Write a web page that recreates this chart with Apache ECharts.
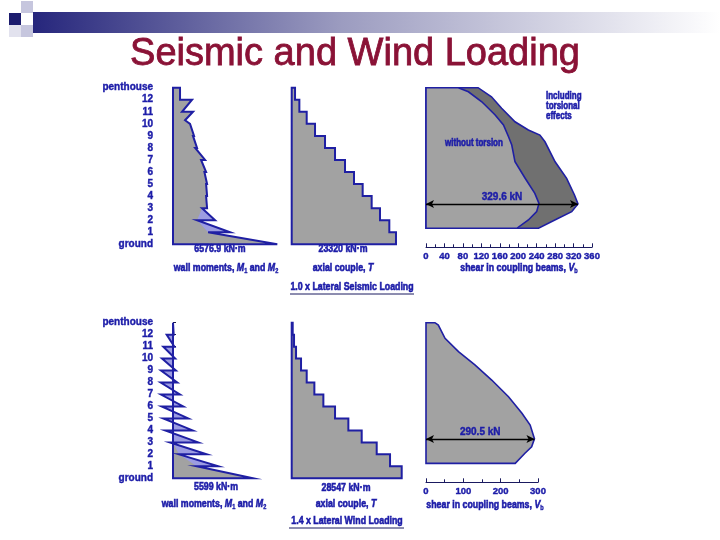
<!DOCTYPE html>
<html><head><meta charset="utf-8">
<script src="https://cdn.jsdelivr.net/npm/echarts@6/dist/echarts.min.js"></script>
<style>html,body{margin:0;padding:0;background:#fff}#c{width:720px;height:540px}</style>
</head><body><div id="c"></div>
<script>
// ---------- DATA ----------
const levelLabels = ['ground','1','2','3','4','5','6','7','8','9','10','11','12','penthouse'];

// wall moments, seismic [kN·m, level]
const seisMomentOutline = [[0,13],[443,13],[443,12],[1202,12],[569,11],[1265,11],[759,10.3],[1075,10],
  [1328,9],[1260,9],[1518,8],[1400,8],[2024,7],[1771,7],[2087,6],[1980,6],[2150,5],[2087,5],
  [2150,4],[2087,4],[2150,3],[1834,3],[2656,2],[1518,2],[3605,1],[2213,1],[6577,0],[0,0]];
const seisMomentInner = [[0,13],[443,13],[443,12],[1202,12],[569,11],[1265,11],[759,10.3],[1075,10],
  [1328,9],[1260,9],[1518,8],[1400,8],[2024,7],[1771,7],[2087,6],[1980,6],[2150,5],[2087,5],
  [2150,4],[2087,4],[2150,3],[1834,3],[1518,2],[2213,1],[6577,0],[0,0]];
// wall moments, wind: value just above floor (tip) and just below floor (notch), floors 12..1
const windFloors = [12,11,10,9,8,7,6,5,4,3,2,1];
const windMomentTip = [50,100,150,200,300,490,721,1071,1379,1771,2359,3171];
const windMomentNotch = [-441,-679,-770,-840,-861,-840,-791,-679,-539,-210,420,1659];
const windMomentBase = 5599;
const windMomentInner = [[0,3],[420,2],[1659,1],[5599,0],[0,0]];

// axial couple T per storey, top storey (penthouse-12) down to storey 1
const seisAxialCouple = [745,1714,3353,5215,7450,9686,11921,13932,15869,17881,19743,21829,23320];
const windAxialCouple = [260,606,1125,2422,3893,5882,8218,11246,14706,18166,22059,25519,28547];

// shear in coupling beams [kN, level]
const seisShearTorsion = [[113,13],[142,12.25],[164,11.29],[193,10.17],[222,9.49],[247,9.07],[258,8.51],
  [280,6.85],[305,5.48],[322,4.09],[329.6,3.35],[316,2.71],[287,2.16],[244,1.33]];
const seisShearNoTorsion = [[70,13],[92,12.66],[121,11.83],[150,10.73],[168,9.9],[179,8.93],[186,8.24],
  [193,6.85],[215,5.48],[236,4.23],[245,3.4],[240,2.71],[222,2.02],[197,1.33]];
const windShear = [[24,13],[33,12.8],[51,11.7],[87,10.58],[131,9.47],[176,8.21],[221,6.82],[257,5.43],
  [279,4.45],[290.5,3.3],[283,2.64],[265,2.09],[239,1.25]];
const seisShearMax = {value:329.6, level:3.35, text:'329.6 kN'};
const windShearMax = {value:290.5, level:3.28, text:'290.5 kN'};

// ---------- STYLE ----------
const BLUE = '#1c1ca8';
const OUT = '#1f1fa3';
const GREY = '#a2a2a2';
const DARK = '#707070';
const LAV = '#9c9ce2';
const FONT = "'Liberation Sans',Arial,sans-serif";
const SX = 0.8;

// ---------- helpers ----------
function windOutline(){
  const pts=[[0,13]];
  windFloors.forEach((f,i)=>{ pts.push([windMomentTip[i],f],[windMomentNotch[i],f]); });
  pts.push([windMomentBase,0],[0,0]);
  return pts;
}
function stairs(vals){
  const pts=[[0,13]];
  vals.forEach((v,i)=>{ const t=13-i; pts.push([v,t],[v,t-1]); });
  pts.push([0,0]);
  return pts;
}
function shearPoly(arr){
  const bottom = arr[arr.length-1][1];
  return [[0,13]].concat(arr).concat([[0,bottom]]);
}
function poly(gi, pts, fill, stroke, lw, z){
  return {
    type:'custom', xAxisIndex:gi, yAxisIndex:gi, z:z, clip:false, silent:true,
    data: pts, encode:{x:0,y:1},
    renderItem:(params, api)=>{
      if(params.dataIndex!==0) return null;
      return {type:'polygon', shape:{points: pts.map(p=>api.coord(p))},
        style:{fill: fill||'none', stroke: stroke||'none', lineWidth: lw||0, lineJoin:'miter'}};
    }
  };
}
function arrow(gi, m){
  return {
    type:'line', xAxisIndex:gi, yAxisIndex:gi, z:20, silent:true, symbol:'none',
    data:[[0,m.level],[m.value,m.level]], lineStyle:{opacity:0},
    markLine:{silent:true, symbol:['arrow','arrow'], symbolSize:[6,8], animation:false,
      lineStyle:{color:'#000', width:1.3, type:'solid'},
      label:{show:true, position:'middle', formatter:m.text, color:BLUE, fontFamily:FONT,
        fontWeight:'bold', fontSize:10, distance:2, textBorderColor:BLUE, textBorderWidth:0.4},
      data:[[{coord:[0,m.level]},{coord:[m.value,m.level]}]]}
  };
}

const rowTop = [87.7, 322.7], rowH = [156.6, 155.6];
const grids = [
  {left:173, top:rowTop[0], width:111, height:rowH[0]},
  {left:291.7, top:rowTop[0], width:111.8, height:rowH[0]},
  {left:426, top:rowTop[0], width:166, height:rowH[0]},
  {left:173, top:rowTop[1], width:100, height:rowH[1]},
  {left:291.7, top:rowTop[1], width:115.6, height:rowH[1]},
  {left:426, top:rowTop[1], width:112, height:rowH[1]}
];
const hiddenX = (max)=>({type:'value', min:0, max:max, show:false});
const tickAxis = (gi,max,interval,off)=>({type:'value', gridIndex:gi, min:0, max:max, interval:interval,
  position:'bottom', offset:off,
  axisLine:{show:true, onZero:false, lineStyle:{color:'#1a1a60', width:1}},
  axisTick:{show:true, inside:true, length:4, lineStyle:{color:'#1a1a60'}},
  minorTick:{show:true, splitNumber:2, length:3, lineStyle:{color:'#1a1a60'}},
  splitLine:{show:false},
  axisLabel:{color:BLUE, fontFamily:FONT, fontWeight:'bold', fontSize:9.5, margin:4,
    textBorderColor:BLUE, textBorderWidth:0.4}});
const xAxes = [
  Object.assign(hiddenX(7000),{gridIndex:0}),
  Object.assign(hiddenX(25000),{gridIndex:1}),
  tickAxis(2,360,40,3),
  Object.assign(hiddenX(7000),{gridIndex:3}),
  Object.assign(hiddenX(30000),{gridIndex:4}),
  tickAxis(5,300,100,4)
];
const levelAxis = (gi)=>({type:'value', gridIndex:gi, min:0, max:13, interval:1, position:'left', offset:16,
  axisLine:{show:true, lineStyle:{color:'#1a1a50', width:1}},
  axisTick:{show:true, inside:true, length:3, lineStyle:{color:'#1a1a50'}},
  splitLine:{show:false},
  axisLabel:{formatter:(v)=>levelLabels[v]||'', color:BLUE, fontFamily:FONT, fontWeight:'bold', fontSize:10, margin:4,
    textBorderColor:BLUE, textBorderWidth:0.4}});
const hiddenY = (gi)=>({type:'value', gridIndex:gi, min:0, max:13, show:false});
const yAxes = [levelAxis(0), hiddenY(1), hiddenY(2), levelAxis(3), hiddenY(4), hiddenY(5)];

const wOut = windOutline();
const series = [
  poly(0, seisMomentOutline, LAV, null, 0, 2),
  poly(0, seisMomentInner, GREY, null, 0, 3),
  poly(0, seisMomentOutline, null, OUT, 2, 4),
  poly(1, stairs(seisAxialCouple), GREY, OUT, 2, 3),
  poly(2, shearPoly(seisShearTorsion), DARK, OUT, 1.6, 3),
  poly(2, shearPoly(seisShearNoTorsion), GREY, OUT, 1.6, 4),
  arrow(2, seisShearMax),
  poly(3, wOut, LAV, null, 0, 2),
  poly(3, windMomentInner, GREY, null, 0, 3),
  poly(3, wOut, null, OUT, 2, 4),
  poly(4, stairs(windAxialCouple), GREY, OUT, 2, 3),
  poly(5, shearPoly(windShear), GREY, OUT, 1.6, 3),
  arrow(5, windShearMax)
];

const txt = (x,y,text,size,extra,sx)=>({type:'text', x:x, y:y, scaleX:(sx||SX), silent:true, z:50,
  style:Object.assign({text:text, fill:BLUE, stroke:BLUE, lineWidth:0.6, font:'bold '+(size||11)+'px '+FONT, align:'center', verticalAlign:'middle'}, extra||{})});
const rs = (o)=>Object.assign({fontFamily:FONT, fontWeight:'bold', fill:BLUE, stroke:BLUE, lineWidth:0.6}, o);
const richStyle = {
  n:rs({fontSize:11, lineHeight:14}),
  i:rs({fontStyle:'italic', fontSize:11, lineHeight:14}),
  s:rs({fontSize:7, lineHeight:9, verticalAlign:'bottom', padding:[4,0,0,0], lineWidth:0.4})
};
const rtxt = (x,y,text)=>({type:'text', x:x, y:y, scaleX:SX, silent:true, z:50,
  style:{text:text, rich:richStyle, fill:BLUE, align:'center', verticalAlign:'middle'}});

const graphic = [
  {type:'rect', shape:{x:33,y:12,width:687,height:21}, silent:true,
    style:{fill:new echarts.graphic.LinearGradient(0,0,1,0,[{offset:0,color:'#26267c'},{offset:0.45,color:'#9c9cc0'},{offset:1,color:'#ffffff'}])}},
  {type:'rect', shape:{x:9,y:13,width:12,height:12}, silent:true, style:{fill:'#1c1c6e'}},
  {type:'rect', shape:{x:21,y:1,width:12,height:12}, silent:true, style:{fill:'#c6c6de'}},
  {type:'rect', shape:{x:21,y:25,width:12,height:12}, silent:true, style:{fill:'#c6c6de'}},
  {type:'rect', shape:{x:9,y:25,width:12,height:12}, silent:true, style:{fill:'#e2e2ee'}},
  {type:'text', x:355, y:55, silent:true, style:{text:'Seismic and Wind Loading', fill:'#8a1236',
    stroke:'#8a1236', lineWidth:0.8,
    font:'38px "Liberation Sans", Arial, sans-serif', align:'center', verticalAlign:'middle'}},
  // seismic row
  txt(220,249,'6576.9 kN·m'),
  rtxt(226,268,'{n|wall moments, }{i|M}{s|1}{n| and }{i|M}{s|2}'),
  txt(343,249,'23320 kN·m'),
  rtxt(343,268,'{n|axial couple, }{i|T}'),
  txt(352,287,'1.0 x Lateral Seismic Loading'),
  {type:'line', shape:{x1:290,y1:294,x2:414,y2:294}, silent:true, style:{stroke:'#1a1a60', lineWidth:1}},
  rtxt(519,268,'{n|shear in coupling beams, }{i|V}{s|b}'),
  txt(474,143,'without torsion',10),
  txt(546,96,'Including',10,{align:'left'}),
  txt(546,106,'torsional',10,{align:'left'}),
  txt(546,116,'effects',10,{align:'left'}),
  // wind row
  txt(216,487,'5599 kN·m'),
  rtxt(214,504,'{n|wall moments, }{i|M}{s|1}{n| and }{i|M}{s|2}'),
  txt(346,488,'28547 kN·m'),
  rtxt(346,504,'{n|axial couple, }{i|T}'),
  txt(347,521,'1.4 x Lateral Wind Loading'),
  {type:'line', shape:{x1:289,y1:528,x2:404,y2:528}, silent:true, style:{stroke:'#1a1a60', lineWidth:1}},
  rtxt(485,505,'{n|shear in coupling beams, }{i|V}{s|b}')
];

const chart = echarts.init(document.getElementById('c'), null, {renderer:'canvas'});
chart.setOption({
  animation:false, backgroundColor:'#ffffff',
  grid: grids, xAxis: xAxes, yAxis: yAxes, series: series, graphic: graphic
});
</script></body></html>
